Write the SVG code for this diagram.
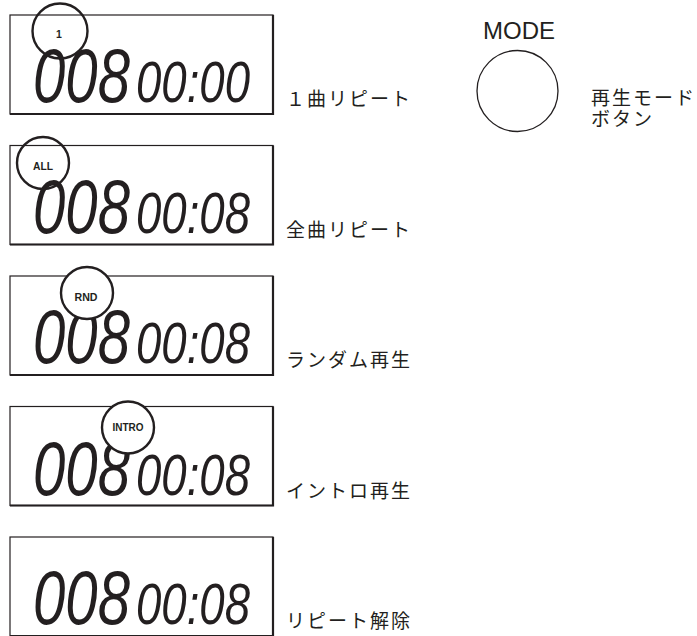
<svg xmlns="http://www.w3.org/2000/svg" width="697" height="636" viewBox="0 0 697 636">
<style>
.box{fill:none;stroke:#231f20;stroke-width:1.2}
.shadow{fill:none;stroke:#231f20;stroke-width:2.2}
.big{font-family:"Liberation Sans","DejaVu Sans",sans-serif;font-style:italic;font-size:76px;fill:#231f20}
.small{font-family:"Liberation Sans","DejaVu Sans",sans-serif;font-style:italic;font-size:58px;fill:#231f20}
.ring{stroke:#231f20;stroke-width:2.4}
.tag{font-family:"Liberation Sans","DejaVu Sans",sans-serif;font-weight:bold;font-size:10.5px;fill:#231f20;text-anchor:middle}
.lbl{font-family:"Noto Sans CJK JP","Noto Sans",sans-serif;font-size:19px;letter-spacing:2px;fill:#231f20}
</style>
<g id="lcd1">
<rect class="box" x="10" y="15" width="263" height="99"/>
<path class="shadow" d="M273 15 V114 H10"/>
<text class="big" x="33" y="102" textLength="97" lengthAdjust="spacingAndGlyphs">008</text>
<text class="small" x="136" y="102" textLength="114" lengthAdjust="spacingAndGlyphs">00:00</text>
<circle class="ring" cx="60" cy="31" r="27.5" fill="none"/>
<text class="tag" x="59" y="38">1</text>
<text class="lbl" x="286" y="106">１曲リピート</text>
</g>
<g id="lcd2">
<rect class="box" x="10" y="145.5" width="263" height="99"/>
<path class="shadow" d="M273 145.5 V244.5 H10"/>
<text class="big" x="33" y="232.5" textLength="97" lengthAdjust="spacingAndGlyphs">008</text>
<text class="small" x="136" y="232.5" textLength="114" lengthAdjust="spacingAndGlyphs">00:08</text>
<circle class="ring" cx="43" cy="163" r="26" fill="none"/>
<text class="tag" x="43" y="169.5" textLength="20" lengthAdjust="spacingAndGlyphs">ALL</text>
<text class="lbl" x="286" y="236.5">全曲リピート</text>
</g>
<g id="lcd3">
<rect class="box" x="10" y="276" width="263" height="99"/>
<path class="shadow" d="M273 276 V375 H10"/>
<text class="big" x="33" y="363" textLength="97" lengthAdjust="spacingAndGlyphs">008</text>
<text class="small" x="136" y="363" textLength="114" lengthAdjust="spacingAndGlyphs">00:08</text>
<circle class="ring" cx="87" cy="293" r="26" fill="#fff"/>
<text class="tag" x="86" y="300.5" textLength="23" lengthAdjust="spacingAndGlyphs">RND</text>
<text class="lbl" x="286" y="367">ランダム再生</text>
</g>
<g id="lcd4">
<rect class="box" x="10" y="406.5" width="263" height="99"/>
<path class="shadow" d="M273 406.5 V505.5 H10"/>
<text class="big" x="33" y="494.5" textLength="97" lengthAdjust="spacingAndGlyphs">008</text>
<text class="small" x="136" y="494.5" textLength="114" lengthAdjust="spacingAndGlyphs">00:08</text>
<circle class="ring" cx="128" cy="427.5" r="26" fill="#fff"/>
<text class="tag" x="128" y="430.5" textLength="31" lengthAdjust="spacingAndGlyphs">INTRO</text>
<text class="lbl" x="286" y="497.5">イントロ再生</text>
</g>
<g id="lcd5">
<rect class="box" x="10" y="537" width="263" height="99"/>
<path class="shadow" d="M273 537 V636 H10"/>
<text class="big" x="33" y="624" textLength="97" lengthAdjust="spacingAndGlyphs">008</text>
<text class="small" x="136" y="624" textLength="114" lengthAdjust="spacingAndGlyphs">00:08</text>
<text class="lbl" x="286" y="628">リピート解除</text>
</g>
<g id="mode">
<text x="519" y="39" font-family="Liberation Sans,DejaVu Sans,sans-serif" font-size="24" fill="#231f20" text-anchor="middle" textLength="72" lengthAdjust="spacingAndGlyphs">MODE</text>
<circle cx="517.5" cy="91" r="40.5" fill="none" stroke="#231f20" stroke-width="1.3"/>
<text class="lbl" x="591" y="105">再生モード</text>
<text class="lbl" x="591" y="126">ボタン</text>
</g>
<g id="connectors"/>
</svg>
